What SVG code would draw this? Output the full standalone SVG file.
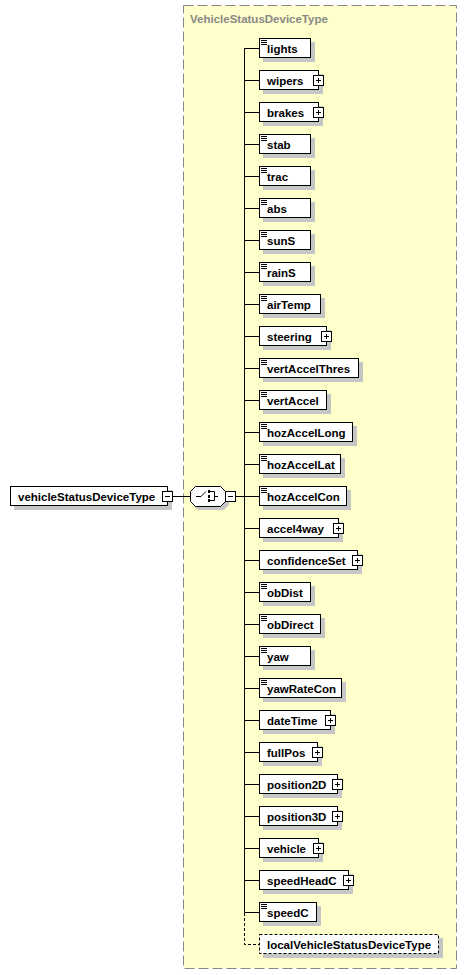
<svg xmlns="http://www.w3.org/2000/svg" xmlns:xlink="http://www.w3.org/1999/xlink" width="467" height="975" viewBox="0 0 467 975">
<style>
.sh{fill:#c6c6c6}
.bx{fill:#fff;stroke:#000;stroke-width:1}
.t{font-family:"Liberation Sans",Arial,sans-serif;font-weight:bold;font-size:11.5px;fill:#000}
.ln{fill:none;stroke:#000;stroke-width:1}
.dl{fill:none;stroke:#000;stroke-width:1;stroke-dasharray:3,2}
</style>
<defs>
<g id="eq"><path d="M0 0.5h6M0 2.5h6M0 4.5h6" stroke="#000" stroke-width="1" fill="none"/></g>
<g id="plus"><rect x="0.5" y="0.5" width="10" height="10" fill="#fff" stroke="#000"/><path d="M3 5.5h5M5.5 3v5" stroke="#000" fill="none"/></g>
<g id="minus"><rect x="0.5" y="0.5" width="10" height="10" fill="#fff" stroke="#000"/><path d="M3 5.5h5" stroke="#000" fill="none"/></g>
</defs>
<rect x="0" y="0" width="467" height="975" fill="#fff"/>
<g id="complexType">
<rect x="183.5" y="5.5" width="273" height="963" fill="#ffffcc" stroke="#888" stroke-dasharray="10,4"/>
<text x="190" y="23" style="font-family:'Liberation Sans',Arial,sans-serif;font-weight:bold;font-size:11.5px;fill:#888">VehicleStatusDeviceType</text>
</g>
<g id="connectors">
<path class="ln" d="M172.5 496.5H190M235 496.5H244.5M244.5 48V912.5"/>
<path class="ln" d="M244.5 48.5H259M244.5 80.5H259M244.5 112.5H259M244.5 144.5H259M244.5 176.5H259M244.5 208.5H259M244.5 240.5H259M244.5 272.5H259M244.5 304.5H259M244.5 336.5H259M244.5 368.5H259M244.5 400.5H259M244.5 432.5H259M244.5 464.5H259M244.5 496.5H259M244.5 528.5H259M244.5 560.5H259M244.5 592.5H259M244.5 624.5H259M244.5 656.5H259M244.5 688.5H259M244.5 720.5H259M244.5 752.5H259M244.5 784.5H259M244.5 816.5H259M244.5 848.5H259M244.5 880.5H259M244.5 912.5H259"/>
<path class="dl" d="M244.5 913V944.5H259"/>
</g>
<g id="root">
<rect class="sh" x="14" y="490" width="158" height="20"/>
<rect class="bx" x="10.5" y="486.5" width="157" height="19"/>
<text class="t" x="18" y="501">vehicleStatusDeviceType</text>
<use xlink:href="#minus" x="162" y="491"/>
</g>
<g id="sequence">
<path class="sh" d="M198 490H224L229 495V505L224 510H198L193 505V495Z"/>
<path class="bx" d="M195.5 486.5H220.5L225.5 491.5V501.5L220.5 506.5H195.5L190.5 501.5V491.5Z"/>
<path class="ln" d="M196 496.5H201L206 491.5M210 491.5H214.5V500.5H210M214.5 496.5H218"/>
<rect x="208" y="490" width="2" height="3" fill="#000"/>
<rect x="208" y="495" width="2" height="3" fill="#000"/>
<rect x="208" y="499" width="2" height="3" fill="#000"/>
<use xlink:href="#minus" x="225" y="491"/>
</g>
<g id="n-lights" transform="translate(0,48)"><rect class="sh" x="263" y="-6" width="52" height="20"/><rect class="bx" x="259.5" y="-9.5" width="51" height="19"/><use xlink:href="#eq" x="261" y="-8"/><text class="t" x="267" y="5">lights</text></g>
<g id="n-wipers" transform="translate(0,80)"><rect class="sh" x="263" y="-6" width="60" height="20"/><rect class="bx" x="259.5" y="-9.5" width="59" height="19"/><text class="t" x="267" y="5">wipers</text><use xlink:href="#plus" x="313" y="-5"/></g>
<g id="n-brakes" transform="translate(0,112)"><rect class="sh" x="263" y="-6" width="60" height="20"/><rect class="bx" x="259.5" y="-9.5" width="59" height="19"/><text class="t" x="267" y="5">brakes</text><use xlink:href="#plus" x="313" y="-5"/></g>
<g id="n-stab" transform="translate(0,144)"><rect class="sh" x="263" y="-6" width="52" height="20"/><rect class="bx" x="259.5" y="-9.5" width="51" height="19"/><use xlink:href="#eq" x="261" y="-8"/><text class="t" x="267" y="5">stab</text></g>
<g id="n-trac" transform="translate(0,176)"><rect class="sh" x="263" y="-6" width="52" height="20"/><rect class="bx" x="259.5" y="-9.5" width="51" height="19"/><use xlink:href="#eq" x="261" y="-8"/><text class="t" x="267" y="5">trac</text></g>
<g id="n-abs" transform="translate(0,208)"><rect class="sh" x="263" y="-6" width="52" height="20"/><rect class="bx" x="259.5" y="-9.5" width="51" height="19"/><use xlink:href="#eq" x="261" y="-8"/><text class="t" x="267" y="5">abs</text></g>
<g id="n-sunS" transform="translate(0,240)"><rect class="sh" x="263" y="-6" width="52" height="20"/><rect class="bx" x="259.5" y="-9.5" width="51" height="19"/><use xlink:href="#eq" x="261" y="-8"/><text class="t" x="267" y="5">sunS</text></g>
<g id="n-rainS" transform="translate(0,272)"><rect class="sh" x="263" y="-6" width="52" height="20"/><rect class="bx" x="259.5" y="-9.5" width="51" height="19"/><use xlink:href="#eq" x="261" y="-8"/><text class="t" x="267" y="5">rainS</text></g>
<g id="n-airTemp" transform="translate(0,304)"><rect class="sh" x="263" y="-6" width="62" height="20"/><rect class="bx" x="259.5" y="-9.5" width="61" height="19"/><use xlink:href="#eq" x="261" y="-8"/><text class="t" x="267" y="5">airTemp</text></g>
<g id="n-steering" transform="translate(0,336)"><rect class="sh" x="263" y="-6" width="68" height="20"/><rect class="bx" x="259.5" y="-9.5" width="67" height="19"/><text class="t" x="267" y="5">steering</text><use xlink:href="#plus" x="321" y="-5"/></g>
<g id="n-vertAccelThres" transform="translate(0,368)"><rect class="sh" x="263" y="-6" width="100" height="20"/><rect class="bx" x="259.5" y="-9.5" width="99" height="19"/><use xlink:href="#eq" x="261" y="-8"/><text class="t" x="267" y="5">vertAccelThres</text></g>
<g id="n-vertAccel" transform="translate(0,400)"><rect class="sh" x="263" y="-6" width="68" height="20"/><rect class="bx" x="259.5" y="-9.5" width="67" height="19"/><use xlink:href="#eq" x="261" y="-8"/><text class="t" x="267" y="5">vertAccel</text></g>
<g id="n-hozAccelLong" transform="translate(0,432)"><rect class="sh" x="263" y="-6" width="94" height="20"/><rect class="bx" x="259.5" y="-9.5" width="93" height="19"/><use xlink:href="#eq" x="261" y="-8"/><text class="t" x="267" y="5">hozAccelLong</text></g>
<g id="n-hozAccelLat" transform="translate(0,464)"><rect class="sh" x="263" y="-6" width="82" height="20"/><rect class="bx" x="259.5" y="-9.5" width="81" height="19"/><use xlink:href="#eq" x="261" y="-8"/><text class="t" x="267" y="5">hozAccelLat</text></g>
<g id="n-hozAccelCon" transform="translate(0,496)"><rect class="sh" x="263" y="-6" width="88" height="20"/><rect class="bx" x="259.5" y="-9.5" width="87" height="19"/><use xlink:href="#eq" x="261" y="-8"/><text class="t" x="267" y="5">hozAccelCon</text></g>
<g id="n-accel4way" transform="translate(0,528)"><rect class="sh" x="263" y="-6" width="80" height="20"/><rect class="bx" x="259.5" y="-9.5" width="79" height="19"/><text class="t" x="267" y="5">accel4way</text><use xlink:href="#plus" x="333" y="-5"/></g>
<g id="n-confidenceSet" transform="translate(0,560)"><rect class="sh" x="263" y="-6" width="99" height="20"/><rect class="bx" x="259.5" y="-9.5" width="98" height="19"/><text class="t" x="267" y="5">confidenceSet</text><use xlink:href="#plus" x="352" y="-5"/></g>
<g id="n-obDist" transform="translate(0,592)"><rect class="sh" x="263" y="-6" width="52" height="20"/><rect class="bx" x="259.5" y="-9.5" width="51" height="19"/><use xlink:href="#eq" x="261" y="-8"/><text class="t" x="267" y="5">obDist</text></g>
<g id="n-obDirect" transform="translate(0,624)"><rect class="sh" x="263" y="-6" width="62" height="20"/><rect class="bx" x="259.5" y="-9.5" width="61" height="19"/><use xlink:href="#eq" x="261" y="-8"/><text class="t" x="267" y="5">obDirect</text></g>
<g id="n-yaw" transform="translate(0,656)"><rect class="sh" x="263" y="-6" width="52" height="20"/><rect class="bx" x="259.5" y="-9.5" width="51" height="19"/><use xlink:href="#eq" x="261" y="-8"/><text class="t" x="267" y="5">yaw</text></g>
<g id="n-yawRateCon" transform="translate(0,688)"><rect class="sh" x="263" y="-6" width="83" height="20"/><rect class="bx" x="259.5" y="-9.5" width="82" height="19"/><use xlink:href="#eq" x="261" y="-8"/><text class="t" x="267" y="5">yawRateCon</text></g>
<g id="n-dateTime" transform="translate(0,720)"><rect class="sh" x="263" y="-6" width="72" height="20"/><rect class="bx" x="259.5" y="-9.5" width="71" height="19"/><text class="t" x="267" y="5">dateTime</text><use xlink:href="#plus" x="325" y="-5"/></g>
<g id="n-fullPos" transform="translate(0,752)"><rect class="sh" x="263" y="-6" width="59" height="20"/><rect class="bx" x="259.5" y="-9.5" width="58" height="19"/><text class="t" x="267" y="5">fullPos</text><use xlink:href="#plus" x="312" y="-5"/></g>
<g id="n-position2D" transform="translate(0,784)"><rect class="sh" x="263" y="-6" width="79" height="20"/><rect class="bx" x="259.5" y="-9.5" width="78" height="19"/><text class="t" x="267" y="5">position2D</text><use xlink:href="#plus" x="332" y="-5"/></g>
<g id="n-position3D" transform="translate(0,816)"><rect class="sh" x="263" y="-6" width="79" height="20"/><rect class="bx" x="259.5" y="-9.5" width="78" height="19"/><text class="t" x="267" y="5">position3D</text><use xlink:href="#plus" x="332" y="-5"/></g>
<g id="n-vehicle" transform="translate(0,848)"><rect class="sh" x="263" y="-6" width="60" height="20"/><rect class="bx" x="259.5" y="-9.5" width="59" height="19"/><text class="t" x="267" y="5">vehicle</text><use xlink:href="#plus" x="313" y="-5"/></g>
<g id="n-speedHeadC" transform="translate(0,880)"><rect class="sh" x="263" y="-6" width="90" height="20"/><rect class="bx" x="259.5" y="-9.5" width="89" height="19"/><text class="t" x="267" y="5">speedHeadC</text><use xlink:href="#plus" x="343" y="-5"/></g>
<g id="n-speedC" transform="translate(0,912)"><rect class="sh" x="263" y="-6" width="58" height="20"/><rect class="bx" x="259.5" y="-9.5" width="57" height="19"/><use xlink:href="#eq" x="261" y="-8"/><text class="t" x="267" y="5">speedC</text></g>
<g id="n-localVehicleStatusDeviceType" transform="translate(0,944)"><rect class="sh" x="263" y="-6" width="180" height="20"/><rect x="259.5" y="-9.5" width="179" height="19" fill="#fff" stroke="#000" stroke-dasharray="3,2"/><text class="t" x="267" y="5">localVehicleStatusDeviceType</text></g>
</svg>
